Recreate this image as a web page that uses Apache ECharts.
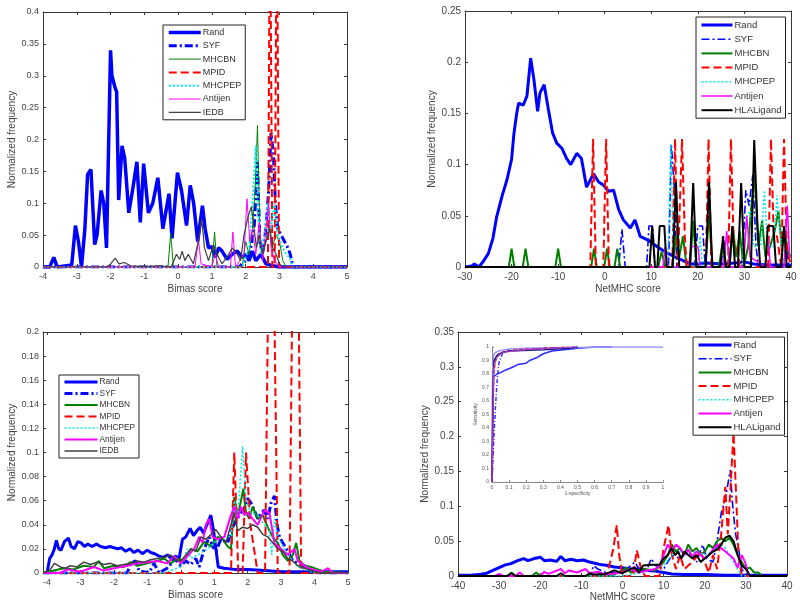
<!DOCTYPE html>
<html><head><meta charset="utf-8">
<script src="https://cdn.jsdelivr.net/npm/echarts@6/dist/echarts.min.js"></script>
<style>html,body{margin:0;padding:0;background:#fff}#c{width:800px;height:607px}</style>
</head><body><div id="c"></div>
<script>
// ---------- legend names ----------
const names1 = ['Rand','SYF','MHCBN','MPID','MHCPEP','Antijen','IEDB'];
const names2 = ['Rand','SYF','MHCBN','MPID','MHCPEP','Antijen','HLALigand'];
const bimasTicks = [-4,-3,-2,-1,0,1,2,3,4,5];

// ---------- Panel 1: Bimas score (top-left) ----------
const p1Rand = [[-4,0],[-3.8,0],[-3.68,0.015],[-3.58,0],[-3.3,0.002],[-3.15,0.003],[-3.04,0.065],[-2.95,0.04],[-2.86,0],[-2.76,0.06],[-2.68,0.145],[-2.58,0.153],[-2.47,0.035],[-2.4,0.05],[-2.28,0.12],[-2.2,0.1],[-2.12,0.03],[-2.0,0.34],[-1.96,0.3],[-1.86,0.28],[-1.82,0.275],[-1.76,0.105],[-1.66,0.19],[-1.58,0.17],[-1.46,0.085],[-1.35,0.12],[-1.22,0.165],[-1.12,0.07],[-1.02,0.162],[-0.88,0.085],[-0.75,0.1],[-0.6,0.14],[-0.45,0.06],[-0.27,0.115],[-0.18,0.045],[-0.02,0.148],[0.1,0.12],[0.25,0.065],[0.36,0.128],[0.46,0.1],[0.58,0.04],[0.72,0.096],[0.8,0.06],[0.9,0.03],[1.0,0.032],[1.1,0.015],[1.2,0.03],[1.3,0.025],[1.45,0.012],[1.6,0.02],[1.75,0.025],[1.9,0.015],[2.0,0.02],[2.1,0.01],[2.2,0.025],[2.3,0.01],[2.45,0.02],[2.6,0.005],[2.8,0.002],[3.0,0],[5,0]];
const p1SYF = [[-4,0],[1.8,0],[2.0,0.01],[2.15,0.03],[2.25,0.06],[2.35,0.165],[2.42,0.04],[2.5,0.02],[2.6,0.06],[2.68,0.12],[2.75,0.21],[2.82,0.18],[2.88,0.1],[2.95,0.06],[3.05,0.05],[3.15,0.04],[3.25,0.03],[3.32,0.02],[3.4,0],[5,0]];
const p1MHCBN = [[-4,0],[-0.3,0],[-0.22,0.053],[-0.14,0],[1.0,0],[1.08,0.055],[1.15,0],[1.9,0],[2.0,0.04],[2.1,0.02],[2.2,0.06],[2.28,0.12],[2.35,0.222],[2.42,0.05],[2.5,0.02],[2.6,0.04],[2.7,0.065],[2.78,0.03],[2.9,0.05],[3.0,0.04],[3.1,0.01],[3.2,0],[5,0]];
const p1MPID = [[-4,0],[2.66,0],[2.72,0.6],[2.79,0],[2.86,0],[2.92,0.6],[2.99,0],[5,0]];
const p1MHCPEP = [[-4,0],[1.9,0],[2.1,0.03],[2.2,0.1],[2.3,0.19],[2.38,0.08],[2.45,0.02],[2.55,0.05],[2.65,0.1],[2.75,0.06],[2.85,0.1],[2.95,0.05],[3.05,0.035],[3.2,0.02],[3.3,0.015],[3.4,0],[5,0]];
const p1Antijen = [[-4,0],[0.5,0],[0.6,0.045],[0.68,0.005],[1.0,0],[1.1,0.02],[1.2,0],[1.55,0],[1.62,0.055],[1.7,0],[1.95,0.02],[2.04,0.107],[2.12,0.04],[2.2,0.06],[2.3,0.02],[2.4,0.07],[2.5,0.01],[2.6,0.06],[2.68,0.1],[2.75,0.03],[2.85,0.01],[3.0,0],[5,0]];
const p1IEDB = [[-4,0],[-2.1,0],[-2.0,0.005],[-1.86,0.014],[-1.75,0.005],[-1.6,0.007],[-1.4,0.002],[-1.0,0.001],[-0.5,0.002],[-0.2,0],[-0.05,0.02],[0.05,0.012],[0.12,0.025],[0.2,0.01],[0.3,0.02],[0.45,0.005],[0.6,0.04],[0.7,0.075],[0.78,0.03],[0.9,0.01],[1.05,0.035],[1.15,0.02],[1.3,0.005],[1.5,0.02],[1.6,0.03],[1.75,0.02],[1.85,0.01],[1.95,0.05],[2.08,0.081],[2.17,0.094],[2.25,0.06],[2.32,0.03],[2.4,0.05],[2.5,0.02],[2.6,0.04],[2.72,0.06],[2.8,0.03],[2.9,0.02],[3.0,0.005],[3.1,0],[5,0]];

// ---------- Panel 2: NetMHC score (top-right) ----------
const p2Rand = [[-30,0],[-28.5,0.001],[-28,0.003],[-27,0],[-26,0.006],[-25,0.013],[-24,0.028],[-23.2,0.049],[-22,0.07],[-21,0.085],[-20,0.105],[-19.5,0.13],[-18.9,0.15],[-18.5,0.16],[-17.5,0.158],[-16.7,0.167],[-15.9,0.204],[-15.2,0.183],[-14.4,0.152],[-13.9,0.17],[-13,0.178],[-12.1,0.154],[-11.2,0.131],[-10.3,0.121],[-9.2,0.116],[-8.2,0.106],[-7.3,0.1],[-6,0.111],[-5,0.106],[-3.9,0.078],[-2.4,0.091],[-1.3,0.083],[-0.3,0.08],[0.8,0.074],[1.9,0.075],[3,0.056],[4,0.046],[5.5,0.038],[6.5,0.046],[7.6,0.03],[9.4,0.026],[11.2,0.02],[13.3,0.014],[15.5,0.009],[17,0.006],[18.4,0.003],[22,0.004],[25,0.003],[28,0.004],[30,0.005],[32,0.003],[35,0.002],[40,0.002]];
const p2SYF = [[-30,0],[3,0],[3.7,0.037],[4.4,0],[9,0],[9.5,0.04],[10.3,0.04],[10.8,0],[13.7,0],[14.3,0.12],[14.9,0.08],[15.5,0],[19.3,0],[20,0.04],[21,0.04],[21.6,0],[25,0],[25.5,0.03],[26,0],[29.5,0],[30.3,0.075],[31,0.06],[31.8,0.09],[32.5,0.02],[33,0],[38.5,0],[39,0.025],[39.5,0],[40,0]];
const p2MHCBN = [[-30,0],[-20.6,0],[-20,0.018],[-19.4,0],[-17.6,0],[-17,0.018],[-16.4,0],[-10.6,0],[-10,0.018],[-9.4,0],[-2.9,0],[-2.3,0.018],[-1.7,0],[-0.1,0],[0.5,0.018],[1.1,0],[2.1,0],[2.7,0.018],[3.3,0],[11.5,0],[12.2,0.015],[13,0],[14.5,0],[15.3,0.03],[16,0.01],[16.8,0.03],[17.6,0],[18.3,0],[19,0.045],[19.7,0],[21.6,0],[22.4,0.05],[23.2,0],[24.5,0],[25.2,0.02],[26,0],[26.8,0],[27.5,0.04],[28.2,0.01],[29,0.035],[29.8,0],[30.8,0.02],[31.5,0.06],[32.2,0.09],[33,0.02],[33.8,0.045],[34.5,0.01],[35.5,0.02],[36.5,0.035],[37.3,0.055],[38,0.02],[38.7,0.035],[39.3,0.015],[40,0.01]];
const p2MPID = [[-30,0],[-3.1,0],[-2.5,0.125],[-1.9,0],[-0.3,0],[0.3,0.125],[0.9,0],[14.5,0],[15.1,0.125],[15.7,0],[16,0],[16.6,0.125],[17.2,0.03],[17.6,0],[21.7,0],[22.3,0.125],[22.9,0],[26.5,0],[27.1,0.125],[27.7,0.02],[28.5,0.02],[29,0],[35.1,0],[35.7,0.125],[36.3,0.03],[37,0.03],[37.9,0],[38.5,0.125],[39.1,0.02],[40,0]];
const p2MHCPEP = [[-30,0],[13.5,0],[14.2,0.12],[14.8,0],[20,0],[20.5,0.03],[21,0],[29.5,0],[30.5,0.05],[31.3,0.055],[32,0.02],[33.5,0.02],[34.3,0.075],[35,0.02],[36.3,0.02],[37,0.07],[37.7,0.03],[38.5,0],[40,0]];
const p2Antijen = [[-30,0],[12.5,0],[13,0.02],[13.5,0],[18,0],[18.5,0.02],[20,0.02],[20.5,0],[25.5,0],[26.2,0.035],[26.8,0],[29.8,0],[30.5,0.05],[31.2,0.01],[34.5,0],[35,0.03],[35.6,0],[38.5,0],[39.2,0.06],[39.7,0.01],[40,0.01]];
const p2HLA = [[-30,0],[9.6,0],[10.2,0.04],[10.8,0],[11.3,0],[11.8,0.04],[12.8,0.04],[13.3,0],[14.6,0],[15.3,0.083],[16,0],[18.3,0],[19,0.082],[19.7,0],[21.7,0],[22.4,0.083],[23.1,0],[24.8,0],[25.4,0.03],[26,0],[26.8,0],[27.4,0.04],[28,0],[28.6,0],[29.3,0.082],[30,0],[31.4,0],[32.1,0.124],[32.8,0.04],[33.4,0],[34.5,0],[35,0.04],[36.2,0.04],[36.8,0],[37.9,0],[38.5,0.04],[39.1,0],[40,0]];

// ---------- Panel 3: Bimas score (bottom-left) ----------
const p3Rand = [[-4.0,0],[-3.92,0.012],[-3.85,0.015],[-3.78,0.02],[-3.72,0.027],[-3.65,0.02],[-3.58,0.019],[-3.48,0.026],[-3.36,0.029],[-3.28,0.022],[-3.18,0.02],[-3.08,0.026],[-2.98,0.025],[-2.88,0.022],[-2.78,0.024],[-2.65,0.022],[-2.52,0.024],[-2.4,0.022],[-2.25,0.021],[-2.12,0.022],[-2.0,0.021],[-1.88,0.02],[-1.78,0.021],[-1.65,0.018],[-1.52,0.02],[-1.4,0.017],[-1.28,0.019],[-1.15,0.016],[-1.0,0.019],[-0.9,0.017],[-0.78,0.016],[-0.65,0.014],[-0.52,0.013],[-0.4,0.015],[-0.28,0.012],[-0.15,0.014],[-0.05,0.012],[0.05,0.028],[0.15,0.03],[0.28,0.037],[0.38,0.031],[0.48,0.035],[0.58,0.038],[0.68,0.033],[0.78,0.04],[0.9,0.048],[0.98,0.035],[1.05,0.02],[1.12,0.005],[1.3,0.004],[1.6,0.003],[2.0,0.003],[2.5,0.002],[3.0,0.001],[4.0,0.001],[5.0,0.001]];
const p3SYF = [[-4.1,0],[-1.6,0],[-1.5,0.008],[-1.35,0.01],[-1.25,0.002],[-0.95,0],[-0.8,0.008],[-0.65,0],[-0.35,0.005],[-0.2,0.012],[0.0,0.006],[0.15,0.01],[0.3,0.007],[0.45,0.012],[0.55,0.005],[0.7,0.02],[0.85,0.03],[0.95,0.022],[1.05,0.018],[1.2,0.028],[1.4,0.025],[1.55,0.038],[1.68,0.045],[1.8,0.05],[1.92,0.055],[2.0,0.062],[2.1,0.058],[2.2,0.052],[2.3,0.045],[2.4,0.05],[2.5,0.052],[2.6,0.045],[2.7,0.058],[2.8,0.064],[2.88,0.04],[2.95,0.03],[3.05,0.025],[3.2,0.018],[3.35,0.01],[3.5,0.008],[3.7,0.006],[3.85,0.003],[4.1,0],[5,0]];
const p3MHCBN = [[-4.1,0],[-3.8,0.002],[-3.5,0.004],[-3.2,0.003],[-2.9,0.006],[-2.6,0.005],[-2.45,0.01],[-2.3,0.004],[-2.0,0.006],[-1.7,0.005],[-1.5,0.009],[-1.3,0.006],[-1.0,0.008],[-0.7,0.01],[-0.5,0.012],[-0.3,0.008],[-0.1,0.012],[0.1,0.01],[0.3,0.02],[0.5,0.018],[0.7,0.026],[0.9,0.022],[1.1,0.03],[1.25,0.028],[1.4,0.022],[1.5,0.02],[1.6,0.063],[1.7,0.048],[1.8,0.06],[1.87,0.07],[1.95,0.05],[2.05,0.045],[2.15,0.055],[2.3,0.045],[2.45,0.048],[2.6,0.038],[2.75,0.03],[2.9,0.025],[3.05,0.015],[3.2,0.01],[3.35,0.015],[3.45,0.025],[3.55,0.01],[3.7,0.006],[3.9,0.005],[4.1,0.003],[4.3,0.001],[5,0]];
const p3MPID = [[-4.1,0],[1.5,0],[1.6,0.1],[1.72,0],[1.85,0],[1.95,0.1],[2.08,0.04],[2.3,0],[2.52,0],[2.64,0.3],[2.76,0.3],[2.9,0],[3.25,0],[3.36,0.3],[3.5,0.3],[3.6,0],[5,0]];
const p3MHCPEP = [[-4.1,0],[-0.5,0],[0.0,0.005],[0.2,0.02],[0.3,0.012],[0.5,0.015],[0.8,0.02],[1.0,0.025],[1.2,0.03],[1.5,0.03],[1.6,0.06],[1.7,0.045],[1.85,0.105],[1.95,0.06],[2.1,0.05],[2.3,0.048],[2.5,0.04],[2.65,0.035],[2.72,0.015],[2.8,0.045],[2.9,0.03],[3.1,0.02],[3.3,0.012],[3.5,0.005],[4.0,0],[5,0]];
const p3Antijen = [[-4.1,0],[-3.6,0],[-3.4,0.003],[-3.0,0.001],[-2.6,0.005],[-2.3,0.002],[-2.0,0.004],[-1.6,0.006],[-1.3,0.008],[-1.0,0.009],[-0.7,0.01],[-0.4,0.008],[-0.2,0.014],[0.0,0.008],[0.2,0.014],[0.4,0.02],[0.55,0.03],[0.65,0.025],[0.75,0.04],[0.85,0.045],[0.95,0.03],[1.1,0.028],[1.3,0.03],[1.5,0.048],[1.6,0.055],[1.7,0.045],[1.8,0.055],[1.9,0.048],[2.0,0.05],[2.15,0.045],[2.3,0.04],[2.5,0.052],[2.65,0.05],[2.8,0.025],[3.0,0.02],[3.2,0.015],[3.4,0.02],[3.5,0.01],[3.8,0.004],[4.2,0.001],[4.4,0.004],[4.55,0],[5,0]];
const p3IEDB = [[-4.1,0],[-3.9,0.003],[-3.78,0.008],[-3.6,0.005],[-3.45,0.004],[-3.3,0.006],[-3.1,0.005],[-2.9,0.009],[-2.7,0.007],[-2.5,0.009],[-2.3,0.007],[-2.1,0.008],[-1.9,0.006],[-1.7,0.007],[-1.5,0.008],[-1.3,0.01],[-1.1,0.009],[-0.9,0.011],[-0.7,0.012],[-0.5,0.013],[-0.3,0.015],[-0.15,0.011],[0.0,0.01],[0.15,0.015],[0.3,0.02],[0.45,0.018],[0.6,0.03],[0.75,0.028],[0.9,0.032],[1.05,0.036],[1.2,0.03],[1.35,0.025],[1.5,0.04],[1.6,0.05],[1.7,0.035],[1.85,0.038],[2.0,0.037],[2.15,0.04],[2.3,0.038],[2.45,0.032],[2.6,0.03],[2.75,0.025],[2.9,0.02],[3.05,0.018],[3.2,0.012],[3.35,0.01],[3.5,0.006],[3.7,0.004],[3.9,0.002],[4.2,0],[5,0]];

// ---------- Panel 4: NetMHC score (bottom-right) ----------
const p4Rand = [[-40,0.001],[-37,0.001],[-35,0.002],[-33,0.004],[-31.5,0.008],[-30,0.012],[-28.5,0.016],[-27,0.018],[-25.5,0.022],[-24,0.025],[-23,0.022],[-21.5,0.025],[-20,0.027],[-19,0.022],[-17.5,0.023],[-16,0.021],[-15,0.028],[-14,0.022],[-12.5,0.024],[-11,0.022],[-9.5,0.023],[-8,0.02],[-6.5,0.018],[-5,0.016],[-3.5,0.015],[-2,0.013],[0,0.012],[2,0.01],[4,0.01],[6,0.008],[8,0.007],[10,0.005],[12,0.003],[15,0.002],[20,0.002],[25,0.001],[30,0.001],[40,0.001]];
const p4SYF = [[-40,0],[-8,0],[-7,0.015],[-6,0.01],[-4,0.005],[0,0.005],[2,0.015],[3,0.02],[4,0.01],[6,0.01],[7,0.025],[8,0.015],[10,0.01],[12,0.03],[14,0.025],[16,0.035],[18,0.02],[19.5,0.045],[20.5,0.025],[22,0.02],[23,0.05],[24,0.09],[25,0.11],[26.2,0.152],[26.8,0.1],[27.5,0.06],[28.2,0.04],[29,0.01],[30,0],[40,0]];
const p4MHCBN = [[-40,0],[-28,0],[-27,0.005],[-26,0],[-22,0],[-21,0.005],[-20,0],[-3,0],[0,0.008],[1,0.012],[2,0.005],[5,0.01],[8,0.008],[10,0.02],[11,0.03],[12,0.045],[13,0.035],[14,0.04],[15,0.03],[16,0.045],[17,0.035],[18,0.04],[19,0.03],[20,0.035],[21,0.045],[22,0.04],[23,0.05],[24,0.055],[25,0.05],[26,0.055],[27,0.045],[28,0.03],[29,0.02],[30,0.01],[31,0.012],[32,0.005],[33,0.005],[34,0],[40,0]];
const p4MPID = [[-40,0],[-4,0],[-3,0.02],[-2.2,0.04],[-1.4,0.073],[-0.8,0.03],[0,0],[2.5,0],[3.5,0.037],[4.5,0.01],[5.5,0],[9,0],[10,0.04],[11.2,0.073],[12,0.03],[13,0.01],[14,0.03],[15,0.01],[17,0.02],[19,0.035],[20,0.02],[21,0.005],[22,0.03],[23,0.01],[24,0.06],[25,0.128],[25.6,0.06],[26.2,0.12],[27,0.205],[27.6,0.12],[28.2,0.03],[29,0],[40,0]];
const p4MHCPEP = [[-40,0],[0,0],[5,0.005],[10,0.015],[12,0.03],[14,0.035],[16,0.03],[18,0.035],[20,0.03],[22,0.035],[24,0.045],[25,0.04],[26,0.03],[27,0.02],[28,0.01],[29,0],[40,0]];
const p4Antijen = [[-40,0],[-31,0],[-30,0.003],[-29,0],[-26,0],[-25,0.005],[-24,0],[-20,0],[-19,0.006],[-18,0.003],[-15,0.01],[-14,0.004],[-13,0.008],[-11,0.005],[-9,0.01],[-8,0.004],[-6,0.006],[-4,0.002],[0,0.005],[2,0.01],[4,0.005],[6,0.008],[8,0.01],[9,0.015],[10,0.03],[11,0.045],[12,0.035],[13,0.045],[14,0.04],[15,0.03],[16,0.038],[17,0.028],[18,0.035],[19,0.03],[20,0.025],[21,0.03],[22,0.038],[23,0.045],[24,0.04],[25,0.035],[26,0.03],[27,0.025],[28,0.012],[29,0.03],[29.8,0.02],[30.5,0.005],[31,0],[40,0]];
const p4HLA = [[-40,0],[-28,0],[-27,0.004],[-26,0],[-16,0],[-15,0.004],[-14,0],[-9,0],[-8,0.004],[-7,0.002],[-4,0.003],[-2,0.008],[0,0.004],[2,0.01],[3,0.012],[4,0.005],[5,0.015],[7,0.016],[9,0.016],[10,0.025],[11,0.03],[12,0.04],[12.8,0.03],[13.5,0.035],[14.3,0.025],[15,0.035],[16,0.03],[17,0.025],[18,0.03],[19,0.02],[20,0.025],[21,0.03],[22,0.035],[23,0.038],[24,0.045],[25,0.055],[26,0.058],[27,0.05],[28,0.03],[29,0.015],[30,0.01],[31,0],[40,0]];

// ---------- Inset ROC (1-specificity vs sensitivity) ----------
const rocA = [[0,0],[0.003,0.3],[0.006,0.6],[0.01,0.78],[0.03,0.8],[0.05,0.81],[0.08,0.83],[0.12,0.85],[0.15,0.87],[0.2,0.88],[0.22,0.9],[0.26,0.92],[0.3,0.95],[0.35,0.97],[0.42,0.98],[0.5,0.99],[0.6,1],[0.7,1]];
const rocB = [[0,0],[0.002,0.6],[0.004,0.85],[0.01,0.94],[0.02,0.96],[0.05,0.975],[0.1,0.985],[0.2,0.99],[0.4,0.995],[0.7,1],[1,1]];
const rocC = [[0,0],[0.005,0.4],[0.01,0.8],[0.02,0.9],[0.04,0.95],[0.08,0.97],[0.15,0.98],[0.3,0.99],[0.45,1]];
const rocD = [[0,0],[0.01,0.3],[0.02,0.55],[0.03,0.75],[0.04,0.88],[0.06,0.95],[0.1,0.97],[0.2,0.98],[0.3,0.99],[0.5,1]];
const rocE = [[0,0],[0.004,0.5],[0.008,0.8],[0.012,0.9],[0.03,0.94],[0.06,0.96],[0.1,0.97],[0.3,0.98],[0.45,0.99],[0.5,1]];
const rocF = [[0,0],[0.01,0.85],[0.03,0.92],[0.06,0.96],[0.2,0.98],[0.5,1]];

// ---------- styling ----------
const FONT = 'Liberation Sans';
const COLORS = {Rand:'#0000ff',SYF:'#0000ff',MHCBN:'#008000',MPID:'#ff0000',MHCPEP:'#00e5e5',Antijen:'#ff00ff',IEDB:'#404040',HLALigand:'#000000'};
const DASHDOT = [8,3,2,3];
const WIDTHS = [
  {Rand:3.5,SYF:3,MHCBN:1,MPID:2,MHCPEP:2,Antijen:1,IEDB:1.2},
  {Rand:3,SYF:1.6,MHCBN:2,MPID:2,MHCPEP:1.5,Antijen:1.5,HLALigand:2},
  {Rand:3,SYF:3,MHCBN:2,MPID:2,MHCPEP:1.5,Antijen:2,IEDB:1.5},
  {Rand:3,SYF:1.6,MHCBN:2,MPID:2,MHCPEP:1.5,Antijen:2,HLALigand:2}
];
function lineStyleFor(p, name) {
  const t = name==='SYF' ? DASHDOT : name==='MPID' ? [8,4] : name==='MHCPEP' ? [2,2] : 'solid';
  return {color: COLORS[name], width: WIDTHS[p][name], type: t};
}

const grids = [
  {left:43, top:12, width:304, height:255},
  {left:465, top:11, width:326, height:256},
  {left:43, top:332, width:305, height:241},
  {left:458, top:332, width:329, height:244},
  {left:492, top:347, width:171, height:135}
];
const panels = [
  {x:[-4,5,1], y:[0,0.4,0.05], xname:'Bimas score', names:names1, data:[p1Rand,p1SYF,p1MHCBN,p1MPID,p1MHCPEP,p1Antijen,p1IEDB], fs:9, yGap:26, xGap:17,
   legend:{left:163, top:25, fs:9, gap:4.3, iw:32}},
  {x:[-30,40,10], y:[0,0.25,0.05], xname:'NetMHC score', names:names2, data:[p2Rand,p2SYF,p2MHCBN,p2MPID,p2MHCPEP,p2Antijen,p2HLA], fs:10, yGap:27, xGap:17,
   legend:{left:696, top:17, fs:9.5, gap:4.2, iw:31}},
  {x:[-4.12,5,1], y:[0,0.2,0.02], xname:'Bimas score', names:names1, data:[p3Rand,p3SYF,p3MHCBN,p3MPID,p3MHCPEP,p3Antijen,p3IEDB], fs:9, custom:bimasTicks, yGap:26, xGap:17,
   legend:{left:59, top:375, fs:8.3, gap:3.5, iw:33}},
  {x:[-40,40,10], y:[0,0.35,0.05], xname:'NetMHC score', names:names2, data:[p4Rand,p4SYF,p4MHCBN,p4MPID,p4MHCPEP,p4Antijen,p4HLA], fs:10, yGap:28, xGap:13,
   legend:{left:693, top:337, fs:9.5, gap:3.7, iw:33}}
];

const AX = '#3a3a3a', TXT = '#444';
const xAxes = [], yAxes = [], series = [], legends = [];
panels.forEach((p, i) => {
  const base = {gridIndex:i, type:'value', min:p.x[0], max:p.x[1], splitLine:{show:false},
    axisLine:{show:true, onZero:false, lineStyle:{color:AX, width:1}},
    axisTick:{show:true, inside:true, length:3, lineStyle:{color:AX}}};
  if (p.custom) {
    base.axisTick.customValues = p.custom;
  } else base.interval = p.x[2];
  xAxes.push(Object.assign({}, base, {position:'bottom', name:p.xname, nameLocation:'middle', nameGap:p.xGap,
    nameTextStyle:{fontFamily:FONT, fontSize:10, color:TXT},
    axisLabel:Object.assign({fontFamily:FONT, fontSize:p.fs, color:TXT, margin:5}, p.custom?{customValues:p.custom}:{})}));
  xAxes.push(Object.assign({}, base, {position:'top', axisLabel:{show:false}}));
  const ybase = {gridIndex:i, type:'value', min:p.y[0], max:p.y[1], interval:p.y[2], splitLine:{show:false},
    axisLine:{show:true, onZero:false, lineStyle:{color:AX, width:1}},
    axisTick:{show:true, inside:true, length:3, lineStyle:{color:AX}}};
  yAxes.push(Object.assign({}, ybase, {position:'left', name:'Normalized frequency', nameLocation:'middle', nameGap:p.yGap,
    nameTextStyle:{fontFamily:FONT, fontSize:10, color:TXT},
    axisLabel:{fontFamily:FONT, fontSize:p.fs, color:TXT, margin:4}}));
  yAxes.push(Object.assign({}, ybase, {position:'right', axisLabel:{show:false}}));
  p.names.forEach((n, k) => {
    series.push({type:'line', name:n, xAxisIndex:2*i, yAxisIndex:2*i, data:p.data[k], symbol:'none', showSymbol:false,
      lineStyle:lineStyleFor(i, n), itemStyle:{color:COLORS[n]}, silent:true, clip:true, z: 2 + k});
  });
  const L = p.legend;
  legends.push({orient:'vertical', left:L.left, top:L.top, backgroundColor:'#fff', borderColor:'#222', borderWidth:1,
    padding:[3,4,3,4], itemWidth:L.iw, itemHeight:10, itemGap:L.gap, selectedMode:false, z:20,
    textStyle:{fontFamily:FONT, fontSize:L.fs, color:'#333', padding:[0,0,0,-3]},
    data:p.names.map(n => ({name:n, itemStyle:{opacity:0}, lineStyle:lineStyleFor(i, n)}))});
});

// inset axes
const insetAx = {gridIndex:4, type:'value', min:0, max:1, interval:0.1, splitLine:{show:false},
  axisLine:{show:true, onZero:false, lineStyle:{color:'#888', width:1}},
  axisTick:{show:true, inside:true, length:2, lineStyle:{color:'#888'}},
  axisLabel:{fontFamily:FONT, fontSize:5, color:'#555', margin:3},
  nameLocation:'middle', nameTextStyle:{fontFamily:FONT, fontSize:5, color:'#555'}};
xAxes.push(Object.assign({}, insetAx, {position:'bottom', name:'1-specificity', nameGap:9}));
yAxes.push(Object.assign({}, insetAx, {position:'left', name:'Sensitivity', nameGap:12}));
const rocSets = [
  {d:rocA, c:'#2a2aff', w:1.5, t:'solid'},
  {d:rocB, c:'#9090ff', w:1.5, t:'solid'},
  {d:rocC, c:'#ff2020', w:1.5, t:[4,2]},
  {d:rocD, c:'#3030ff', w:1.5, t:[4,2,1,2]},
  {d:rocE, c:'#1a1a8a', w:1.5, t:'solid'},
  {d:rocF, c:'#c040c0', w:1, t:'solid'}
];
rocSets.forEach((r, k) => {
  series.push({type:'line', name:'roc'+k, xAxisIndex:8, yAxisIndex:8, data:r.d, symbol:'none', showSymbol:false,
    lineStyle:{color:r.c, width:r.w, type:r.t}, silent:true, z:10});
});

const chart = echarts.init(document.getElementById('c'), null, {renderer:'canvas'});
chart.setOption({
  animation:false, backgroundColor:'#fff',
  grid:grids.map(g => Object.assign({containLabel:false}, g)),
  xAxis:xAxes, yAxis:yAxes, series:series, legend:legends
});
</script></body></html>
